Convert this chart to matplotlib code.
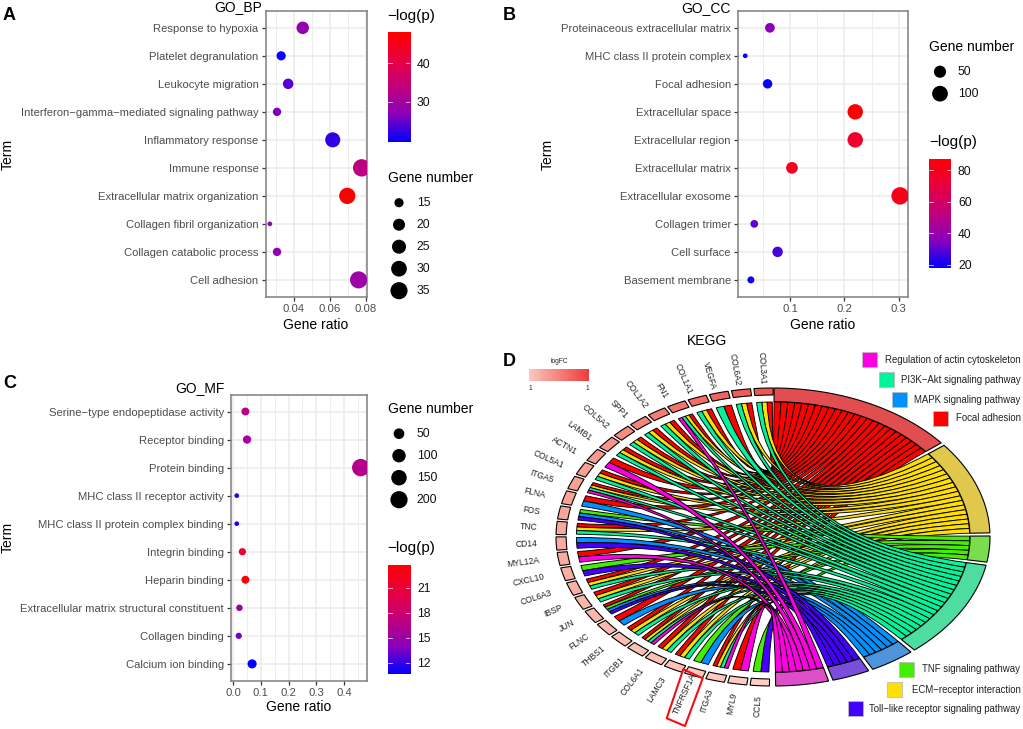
import numpy as np
import matplotlib
matplotlib.use("Agg")
import matplotlib.pyplot as plt
from matplotlib.colors import LinearSegmentedColormap, Normalize
from matplotlib.path import Path
from matplotlib.patches import PathPatch, Rectangle, Polygon

plt.rcParams["font.family"] = ["Liberation Sans", "DejaVu Sans"]

W, H = 1023, 729

# panel A
bp_terms = ["Response to hypoxia", "Platelet degranulation", "Leukocyte migration",
            "Interferon\u2212gamma\u2212mediated signaling pathway", "Inflammatory response",
            "Immune response", "Extracellular matrix organization",
            "Collagen fibril organization", "Collagen catabolic process", "Cell adhesion"]
bp_ratio = [0.045, 0.033, 0.0369, 0.0307, 0.0617, 0.0778, 0.0698, 0.0267, 0.0307, 0.0761]
bp_genes = [21, 15, 17, 14, 28, 36, 32, 12, 14, 35]
bp_logp = [28, 20, 24, 26, 22, 33, 48, 28, 27.5, 29]
bp_size_ticks = [15, 20, 25, 30, 35]
bp_cb_ticks = [30, 40]

# panel B
cc_terms = ["Proteinaceous extracellular matrix", "MHC class II protein complex", "Focal adhesion",
            "Extracellular space", "Extracellular region", "Extracellular matrix",
            "Extracellular exosome", "Collagen trimer", "Cell surface", "Basement membrane"]
cc_ratio = [0.0632, 0.0178, 0.0589, 0.220, 0.220, 0.1037, 0.3025, 0.0344, 0.0773, 0.0282]
cc_genes = [27, 8, 25, 95, 95, 45, 130, 15, 33, 12]
cc_logp = [35, 18, 19, 87, 75, 78, 80, 30, 27, 20]
cc_size_ticks = [50, 100]
cc_cb_ticks = [20, 40, 60, 80]

# panel C
mf_terms = ["Serine\u2212type endopeptidase activity", "Receptor binding", "Protein binding",
            "MHC class II receptor activity", "MHC class II protein complex binding",
            "Integrin binding", "Heparin binding", "Extracellular matrix structural constituent",
            "Collagen binding", "Calcium ion binding"]
mf_ratio = [0.0444, 0.0504, 0.46, 0.0132, 0.0132, 0.0336, 0.0444, 0.0228, 0.0204, 0.0685]
mf_genes = [19, 22, 205, 6, 6, 14, 19, 10, 9, 30]
mf_logp = [17, 15.5, 16.5, 11.5, 11.5, 21, 23.5, 15, 13.5, 10.7]
mf_size_ticks = [50, 100, 150, 200]
mf_cb_ticks = [12, 15, 18, 21]

# panel D, genes clockwise from the bottom, letters are the terms of each gene
chord_genes = ["CCL5", "MYL9", "ITGA3", "TNFRSF1A", "LAMC3", "COL6A1", "ITGB1", "THBS1", "FLNC", "JUN",
               "IBSP", "COL6A3", "CXCL10", "MYL12A", "CD14", "TNC", "FOS", "FLNA", "ITGA5", "COL5A1",
               "ACTN1", "LAMB1", "COL5A2", "SPP1", "COL1A2", "FN1", "COL1A1", "VEGFA", "COL6A2", "COL3A1"]
chord_links = ["LT", "RF", "RPEF", "MT", "PEF", "PEF", "RPEF", "PEF", "MF", "LMTF",
               "PEF", "PEF", "LT", "RF", "LM", "PEF", "LMT", "MF", "RPEF", "PEF",
               "RF", "PEF", "PEF", "PEF", "PEF", "RPEF", "PEF", "PF", "PEF", "PEF"]
chord_logfc = [0.05, 0.07, 0.1, 0.12, 0.15, 0.18, 0.2, 0.22, 0.25, 0.28,
               0.3, 0.33, 0.36, 0.38, 0.4, 0.42, 0.44, 0.46, 0.48, 0.5,
               0.53, 0.56, 0.6, 0.64, 0.68, 0.72, 0.76, 0.8, 0.84, 0.88]
term_keys = ["F", "E", "T", "P", "M", "L", "R"]
term_names = ["Focal adhesion", "ECM\u2212receptor interaction", "TNF signaling pathway",
              "PI3K\u2212Akt signaling pathway", "MAPK signaling pathway",
              "Toll\u2212like receptor signaling pathway", "Regulation of actin cytoskeleton"]
term_colors = ["#FF0000", "#FFDF00", "#44EE00", "#00F59A", "#0090FF", "#4400FF", "#FF00E0"]
term_arc_colors = ["#E24E50", "#E0C84C", "#78DE4E", "#4EDDA0", "#4E94DC", "#7A4EDC", "#DE4EC8"]

ggcmap = LinearSegmentedColormap.from_list(
    "bluered", ["#0000FF", "#8A00BB", "#C1007C", "#E9003F", "#FF0000"])
fccmap = LinearSegmentedColormap.from_list("fc", ["#FFD2CA", "#F9A094", "#EE3C3C"])


def px_axes(x0, y0, x1, y1):
    return fig.add_axes([x0 / W, 1 - y1 / H, (x1 - x0) / W, (y1 - y0) / H])


def marker_s(n, nmin, nmax):
    # ggplot style size scale, diameter in pixels then to points^2
    d = 4.7 + 12.7 * np.sqrt((np.asarray(n, float) - nmin) / (nmax - nmin))
    return (d * 0.72) ** 2


def dot_panel(box, terms, ratio, genes, logp, xlim, major, minor, xfmt, vlim, sizes):
    ax = px_axes(*box)
    ypos = np.arange(len(terms))[::-1]
    ax.set_xlim(*xlim)
    ax.set_ylim(-0.6, 9.6)
    ax.set_axisbelow(True)
    ax.set_xticks(major)
    ax.set_xticks(minor, minor=True)
    ax.set_xticklabels([xfmt % v for v in major])
    ax.set_yticks(ypos)
    ax.set_yticklabels(terms)
    ax.grid(True, which="major", color="#EBEBEB", lw=1.1)
    ax.grid(True, which="minor", axis="x", color="#EBEBEB", lw=0.6)
    ax.tick_params(which="minor", length=0)
    ax.tick_params(which="major", length=2.6, width=0.9, color="#333333", labelcolor="#4D4D4D",
                   labelsize=8.15, pad=2.5)
    for s in ax.spines.values():
        s.set_color("#7F7F7F")
        s.set_linewidth(1.1)
    ax.scatter(ratio, ypos, s=marker_s(genes, *sizes), c=logp, cmap=ggcmap,
               norm=Normalize(*vlim), linewidths=0, zorder=3)
    return ax


def colorbar(box, vlim, ticks):
    ax = px_axes(*box)
    ax.imshow(np.linspace(1, 0, 256).reshape(-1, 1), cmap=ggcmap, aspect="auto",
              extent=[0, 1, vlim[0], vlim[1]])
    ax.set_ylim(*vlim)
    ax.set_xticks([])
    ax.yaxis.tick_right()
    ax.set_yticks(ticks)
    ax.tick_params(length=0, pad=5, labelsize=8.7, labelcolor="#111111")
    for s in ax.spines.values():
        s.set_visible(False)
    for t in ticks:
        ax.plot([0, 0.2], [t, t], color="white", lw=0.5)
        ax.plot([0.8, 1], [t, t], color="white", lw=0.5)


def size_legend(x, ys, xlabel, ticks, sizes):
    ov.scatter([x] * len(ys), ys, s=marker_s(ticks, *sizes), c="black", linewidths=0)
    for y, t in zip(ys, ticks):
        ov.text(xlabel, y, str(t), fontsize=8.7, va="center", ha="left", color="#111111")


fig = plt.figure(figsize=(W / 100, H / 100), dpi=100)

dot_panel((265.7, 11, 366.7, 296.7), bp_terms, bp_ratio, bp_genes, bp_logp, (0.0244, 0.0806),
          [0.04, 0.06, 0.08], [0.03, 0.05, 0.07], "%.2f", (19.4, 48.1), (12, 36))
dot_panel((738, 11, 907.7, 296.7), cc_terms, cc_ratio, cc_genes, cc_logp, (0.0045, 0.3165),
          [0.1, 0.2, 0.3], [0.05, 0.15, 0.25], "%.1f", (17.7, 87.2), (8, 130))
dot_panel((231, 394.7, 366.7, 680.7), mf_terms, mf_ratio, mf_genes, mf_logp, (-0.0075, 0.4815),
          [0, 0.1, 0.2, 0.3, 0.4], [0.05, 0.15, 0.25, 0.35, 0.45], "%.1f", (10.6, 23.76), (6, 205))

colorbar((387.7, 32.3, 410, 142.3), (19.4, 48.1), bp_cb_ticks)
colorbar((929, 158.7, 951, 268.3), (17.7, 87.2), cc_cb_ticks)
colorbar((387.7, 564.7, 410, 674.3), (10.6, 23.76), mf_cb_ticks)

# chord diagram on a unit circle squeezed to an ellipse
cx, cy, rx, ry = 773, 537, 217, 149
ch = px_axes(cx - rx, cy - ry, cx + rx, cy + ry)
ch.set_xlim(-1, 1)
ch.set_ylim(-1, 1)
ch.axis("off")


def arc(a, b, r):
    n = max(int(abs(b - a)) + 2, 3)
    t = np.radians(np.linspace(a, b, n))
    return np.column_stack([r * np.cos(t), r * np.sin(t)])


def ring(a, b, r0, r1, color, lw):
    pts = np.vstack([arc(a, b, r1), arc(b, a, r0)])
    ch.add_patch(Polygon(pts, closed=True, facecolor=color, edgecolor="black", lw=lw,
                         clip_on=False, joinstyle="miter"))


def ribbon(g1, g2, t1, t2, color, r=0.906):
    pa = arc(g1, g2, r)
    pb = arc(t1, t2, r)
    verts = [pa[0]] + list(pa[1:]) + [(0, 0), pb[0]] + list(pb[1:]) + [(0, 0), pa[0], pa[0]]
    codes = ([Path.MOVETO] + [Path.LINETO] * (len(pa) - 1) + [Path.CURVE3, Path.CURVE3]
             + [Path.LINETO] * (len(pb) - 1) + [Path.CURVE3, Path.CURVE3, Path.CLOSEPOLY])
    ch.add_patch(PathPatch(Path(verts, codes), facecolor=color, edgecolor="black", lw=0.65,
                           clip_on=False))


# gene side stripes
gene_step = 6.0
gene_gap = 0.9
stripe_gap = 1.4
gene_stripes = {}
for i, (gene, links) in enumerate(zip(chord_genes, chord_links)):
    a0 = -90.5 - i * gene_step - gene_gap / 2
    a1 = -90.5 - (i + 1) * gene_step + gene_gap / 2
    ring(a0, a1, 0.953, 1.0, fccmap(chord_logfc[i]), 0.8)
    edges = np.linspace(a0 - (stripe_gap - gene_gap) / 2, a1 + (stripe_gap - gene_gap) / 2, len(links) + 1)
    for j, key in enumerate(links):
        gene_stripes[(i, key)] = (edges[j], edges[j + 1])

# term side, arc length follows the number of genes
counts = [sum(key in links for links in chord_links) for key in term_keys]
term_gap = 1.2
per_stripe = (179.0 - term_gap * (len(term_keys) - 1)) / sum(counts)
angle = 89.7
term_spans = {}
for key, c, col in zip(term_keys, counts, term_arc_colors):
    term_spans[key] = (angle, angle - c * per_stripe)
    ring(angle, angle - c * per_stripe, 0.908, 1.0, col, 0.8)
    angle -= c * per_stripe + term_gap

# draw order as in the picture, red at the bottom, magenta on top
for key in ["F", "E", "T", "M", "P", "L", "R"]:
    col = term_colors[term_keys.index(key)]
    start, stop = term_spans[key]
    members = [i for i in range(len(chord_genes))[::-1] if key in chord_links[i]]
    edges = np.linspace(start, stop, len(members) + 1)
    for k, i in enumerate(members):
        g1, g2 = gene_stripes[(i, key)]
        ribbon(g1, g2, edges[k], edges[k + 1], col)

# overlay in pixel coordinates for the loose text and legends
ov = fig.add_axes([0, 0, 1, 1], zorder=10)
ov.set_xlim(0, W)
ov.set_ylim(H, 0)
ov.axis("off")

label_nudge = {"TNFRSF1A": (7, -10), "FN1": (-2, -2)}
for i, gene in enumerate(chord_genes):
    t = np.radians(-90.5 - (i + 0.5) * gene_step)
    gx = cx + (rx + 19) * np.cos(t)
    gy = cy - (ry + (4 if np.sin(t) > 0 else 9)) * np.sin(t)
    nx, ny = label_nudge.get(gene, (0, 0))
    rot = np.degrees(np.arctan2(ry * 1.25 * np.sin(t), rx * np.cos(t))) + 180
    ov.text(gx + nx, gy + ny, gene, fontsize=6.15, color="#222222", rotation=rot, rotation_mode="anchor",
            ha="right", va="center")

ov.add_patch(Polygon([(683.3, 669.3), (702.7, 678.3), (685, 726), (666.7, 718.3)], closed=True,
                     fill=False, edgecolor="#F01010", lw=1.5, joinstyle="round"))

ov.imshow(np.linspace(0, 1, 256).reshape(1, -1), cmap=LinearSegmentedColormap.from_list(
    "fcbar", ["#FDC8BE", "#EE3C3C"]), extent=[529, 589, 380.7, 369.3], aspect="auto")
ov.set_xlim(0, W)
ov.set_ylim(H, 0)
ov.text(559, 361.7, "logFC", fontsize=4.8, ha="center", va="center", color="#222222")
ov.text(530.5, 388, "1", fontsize=4.8, ha="center", va="center", color="#222222")
ov.text(587.5, 388, "1", fontsize=4.8, ha="center", va="center", color="#222222")

# square x, square y and text y for each term key
legend_d = {"R": (862.3, 352.3, 359.7), "P": (879, 371.7, 380), "M": (891.7, 392.3, 400),
            "F": (932.7, 410.7, 418.3), "T": (899, 662, 669.3), "E": (887.3, 682, 689.7),
            "L": (847.7, 701, 708.7)}
for key, (sq_x, sq_y, ty) in legend_d.items():
    k = term_keys.index(key)
    ov.add_patch(Rectangle((sq_x, sq_y), 15, 15, facecolor=term_colors[k], edgecolor="#BBBBBB", lw=0.6))
    ov.text(1020.5, ty, term_names[k], fontsize=6.9, ha="right", va="center", color="#222222")

# panel letters, titles and axis names
for x, y, s in [(3, 15, "A"), (503, 15, "B"), (3, 383, "C"), (503, 361, "D")]:
    ov.text(x, y, s, fontsize=13, fontweight="bold", ha="left", va="center")
for x, y, s in [(238, 7, "GO_BP"), (705.7, 8, "GO_CC"), (200, 388, "GO_MF"), (706.7, 341, "KEGG")]:
    ov.text(x, y, s, fontsize=10, ha="center", va="center")
for x, y in [(316, 325), (823, 325), (298.7, 707)]:
    ov.text(x, y, "Gene ratio", fontsize=10, ha="center", va="center")
for x, y in [(8, 154), (548, 154), (8, 537.7)]:
    ov.text(x, y, "Term", fontsize=10, rotation=90, ha="center", va="center")

# legends
for x, y in [(387.7, 15.7), (929, 142.3), (387.7, 548)]:
    ov.text(x, y, "\u2212log(p)", fontsize=11, ha="left", va="center")
for x, y in [(387.7, 177.7), (929, 46.7), (387.7, 409)]:
    ov.text(x, y, "Gene number", fontsize=10, ha="left", va="center")

size_legend(399, [202.7, 224.7, 246.7, 268.7, 290.7], 416.7, bp_size_ticks, (12, 36))
size_legend(940, [71.7, 93.7], 957.7, cc_size_ticks, (8, 130))
size_legend(399, [433.7, 455.7, 477.7, 499.7], 416.7, mf_size_ticks, (6, 205))

fig.savefig("out.png", dpi=100)
